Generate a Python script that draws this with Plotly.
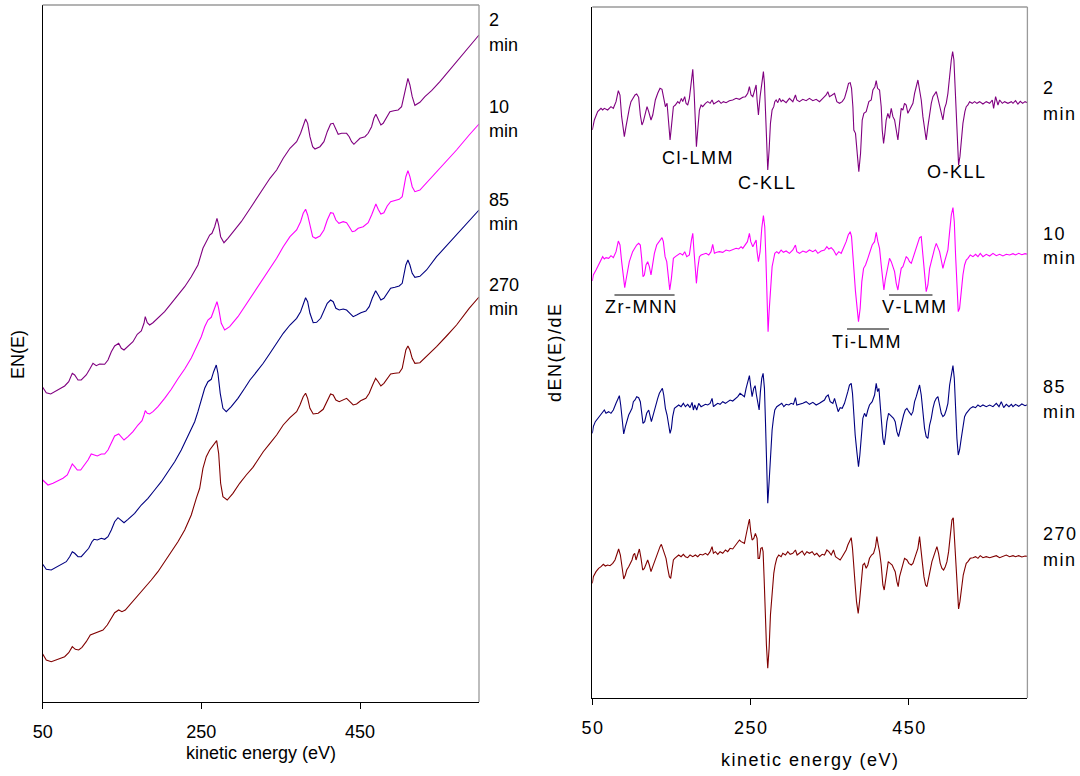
import plotly.graph_objects as go

W, H = 1080, 776

# ---------------- EN(E) spectra (left panel): (kinetic energy eV, EN(E) arb. units) ----------------
en_2min = [(50, 314.7), (54.5, 309.3), (60.1, 308), (65.1, 310.3), (71.4, 313.7), (77.7, 316), (82.8, 320.3),
           (87.3, 328.7), (90.3, 327), (94.5, 322), (98.6, 322), (104.9, 327), (109.2, 332.7), (113.4, 338.7),
           (117.5, 336.3), (121.8, 338), (128.1, 337.7), (132.3, 342), (136.5, 350.3), (140.7, 356), (145.8, 358.7),
           (149.1, 353.7), (152.5, 352), (157.5, 355.3), (163.8, 360.3), (169.2, 367.7), (174.3, 371), (177.7, 378.7),
           (179.3, 385.3), (181.8, 379.3), (184.8, 377), (189.0, 379.3), (195.3, 383.7), (203.7, 390.3), (212.1, 398.7),
           (220.5, 407), (229.0, 415.3), (237.3, 425.3), (245.7, 437), (252.0, 453.7), (256.2, 460.3), (260.5, 467),
           (263.4, 468.7), (266.8, 475.3), (269.7, 483.7), (271.8, 477), (274.3, 465.3), (278.5, 459.3), (283.5, 463.7),
           (292.0, 472), (300.3, 480.3), (312.9, 495.3), (319.7, 503.7), (328.0, 513.7), (336.5, 523.7), (344.9, 532),
           (353.2, 543.7), (361.7, 553.7), (370.1, 560.3), (375.1, 568.7), (378.4, 577), (381.4, 583), (384.0, 578.7),
           (386.9, 565.3), (390.3, 555.3), (393.2, 553), (399.5, 555.3), (404.5, 560.3), (408.7, 570.3), (412.9, 578),
           (416.2, 578.7), (419.6, 572), (422.5, 567.7), (426.8, 568.7), (433.1, 568.7), (436.4, 565.3), (439.4, 560.3),
           (442.3, 557.7), (445.7, 560.3), (449.9, 563.7), (456.2, 565.3), (460.3, 568.7), (464.6, 575.3), (467.5, 583.7),
           (470.0, 587.7), (472.9, 582), (476.3, 577), (479.2, 578.7), (483.5, 585.3), (487.7, 590.3), (492.7, 591.3),
           (498.1, 592), (502.4, 595.3), (505.3, 605.3), (507.8, 617), (510.4, 623.7), (512.9, 617), (515.8, 605.3),
           (519.2, 596.7), (525.5, 599.7), (531.8, 605.3), (540.2, 611.3), (550.7, 620.3), (563.3, 632), (575.9, 643.7),
           (587.6, 655.3), (600, 667)]

en_10min = [(50, 222), (56.7, 217), (63.0, 218.7), (69.3, 221.3), (75.6, 223.7), (81.0, 227), (84.8, 233.7),
            (87.3, 238), (90.3, 235.3), (93.6, 232), (97.9, 232), (102.9, 237), (107.1, 242), (111.2, 248),
            (114.7, 247), (118.8, 246), (123.9, 248), (128.1, 248), (132.3, 252), (136.5, 258.7), (140.7, 266),
            (145.8, 268), (149.1, 264.7), (152.5, 262), (157.5, 265.3), (163.8, 270.3), (170.1, 277), (175.2, 281.3),
            (177.7, 287), (179.3, 291.3), (181.8, 288.7), (184.8, 288), (189.0, 290.3), (195.3, 295.3), (203.7, 303.7),
            (212.1, 312.7), (220.5, 323.3), (229.0, 333), (237.3, 344), (249.9, 365.3), (254.2, 375.3), (258.3, 382),
            (262.5, 384.7), (266.8, 393.7), (269.7, 400.3), (271.8, 393.7), (275.1, 378.7), (279.4, 372), (285.7, 375.3),
            (296.1, 385.3), (304.6, 395.3), (311.3, 404.3), (319.7, 413.7), (328.0, 423.7), (336.5, 433.7), (344.9, 443.7),
            (353.2, 455.3), (361.7, 465.3), (370.1, 472), (375.1, 480.3), (378.4, 488.7), (381.4, 492.7), (384.0, 487),
            (386.9, 475.3), (390.3, 465.3), (394.0, 463.7), (399.5, 466), (404.5, 472), (408.7, 482), (412.9, 489.3),
            (416.2, 488.7), (419.6, 482), (423.4, 478.7), (428.8, 480.3), (433.1, 479.3), (436.4, 475.3), (440.2, 470.3),
            (443.6, 471), (447.7, 473.7), (454.0, 475.3), (460.3, 479.3), (464.6, 487), (467.5, 493.7), (470.0, 498),
            (472.9, 492.7), (476.3, 488), (480.1, 489.3), (484.3, 496), (488.6, 500.3), (494.0, 501.3), (499.4, 502.7),
            (503.2, 505.3), (505.7, 515.3), (507.8, 525.3), (510.4, 531.3), (512.9, 525.3), (515.8, 515.3), (519.2, 510.3),
            (525.5, 512), (533.9, 519.3), (546.5, 530.3), (559.1, 542), (571.7, 552), (587.6, 567), (600, 578)]

en_85min = [(50, 137.7), (54.5, 132.7), (60.8, 132), (67.1, 134.7), (73.4, 137), (79.7, 140.3), (84.0, 145.3),
            (87.3, 150.3), (90.3, 148.7), (94.5, 145.3), (98.6, 145.3), (102.9, 149.3), (108.0, 153.7), (112.1, 160.3),
            (114.7, 162.7), (118.8, 162), (123.9, 163.7), (128.1, 162.7), (132.3, 165.3), (136.5, 172), (140.7, 180.3),
            (144.9, 184.3), (149.1, 181.3), (152.5, 179.3), (157.5, 182.7), (165.9, 188.7), (174.3, 197), (182.7, 203.7),
            (191.1, 212), (199.5, 220.3), (207.9, 230.3), (216.4, 240.3), (224.7, 252), (233.1, 265.3), (241.6, 280.3),
            (245.7, 290.3), (249.9, 302), (254.2, 313.7), (258.3, 320.3), (262.5, 322.7), (265.5, 330.3), (268.8, 337),
            (270.9, 328.7), (273.8, 308.7), (277.2, 293.7), (281.4, 290.3), (287.7, 295.3), (296.1, 303.7), (304.6, 313.7),
            (311.3, 322), (319.7, 330.3), (328.0, 338.7), (336.5, 348.7), (344.9, 358.7), (353.2, 368.7), (361.7, 377),
            (370.1, 383.7), (375.1, 390.3), (378.4, 398.7), (381.4, 404.3), (384.0, 400.3), (386.9, 388.7), (391.0, 379.3),
            (395.3, 379.7), (400.4, 383.7), (404.5, 390.3), (408.7, 398.7), (412.9, 402), (416.2, 400.3), (419.6, 393.7),
            (423.8, 392), (428.8, 393), (433.1, 392), (437.3, 388.7), (441.4, 385.3), (445.7, 387), (451.1, 389.3),
            (457.4, 391), (461.6, 395.3), (465.4, 403.7), (469.7, 411.3), (472.9, 407), (476.3, 402), (480.1, 403.7),
            (484.3, 409.3), (488.6, 413.7), (494.0, 414.7), (499.4, 416), (503.2, 418.7), (505.7, 428.7), (507.8, 437),
            (510.4, 442), (512.9, 437), (515.8, 428.7), (519.2, 424.7), (525.5, 425.7), (533.9, 432), (546.5, 445.3),
            (563.3, 460.3), (587.6, 481.3), (600, 492)]

en_270min = [(50, 48), (54.5, 42), (60.8, 40.3), (69.3, 42.7), (77.7, 45.3), (82.8, 49.3), (87.3, 55.3), (91.1, 52.7),
             (95.4, 52), (99.5, 54.7), (104.9, 60.3), (110.0, 67), (114.7, 68.7), (119.7, 70.3), (126.0, 72), (131.4, 77),
             (136.5, 83.7), (140.7, 89.3), (145.8, 92), (149.9, 90.3), (154.1, 92), (161.7, 98.7), (170.1, 107),
             (178.5, 113.7), (186.9, 122), (195.3, 130.3), (203.7, 140.3), (212.1, 149.3), (220.5, 160.3), (229.0, 172),
             (237.3, 187), (243.6, 203.7), (247.9, 213.7), (252.0, 233.7), (256.2, 245.3), (260.5, 252), (263.4, 255.3),
             (266.8, 258.7), (269.3, 261.3), (271.8, 248.7), (274.3, 218.7), (277.2, 205.3), (282.6, 202), (289.8, 208.7),
             (298.3, 218.7), (306.6, 227), (315.0, 234.7), (319.7, 240.3), (328.0, 250.3), (336.5, 258.7), (344.9, 267),
             (353.2, 277), (361.7, 284.3), (370.1, 290.3), (374.3, 297), (378.4, 305.3), (381.4, 308.7), (384.0, 303.7),
             (386.9, 293.7), (391.0, 288), (397.3, 288.7), (403.6, 292.7), (408.7, 300.3), (412.9, 308), (416.2, 307),
             (419.6, 302), (423.8, 300.3), (428.8, 302), (433.1, 303.7), (437.3, 300.3), (441.4, 297), (445.7, 298),
             (450.8, 301.3), (457.4, 303.7), (461.6, 308.7), (465.9, 317), (469.7, 323.7), (472.9, 320.3), (476.3, 316),
             (480.1, 318.7), (484.3, 323.7), (488.6, 328), (494.0, 328.7), (499.4, 329.3), (503.2, 333.7), (505.7, 343.7),
             (507.8, 352), (510.4, 356), (512.9, 352), (515.8, 343.7), (519.2, 338.7), (525.5, 339.3), (533.9, 345.3),
             (546.5, 355.3), (559.1, 366), (571.7, 377), (587.6, 393.7), (600, 405)]

# ---------------- dEN(E)/dE spectra (right panel): (kinetic energy eV, signal arb. units rel. baseline) -------------
de_2min = [(50.0, -80), (52.6, -50), (56.8, -25), (61.0, -15), (63.1, -20), (65.2, -15), (69.4, -20), (73.6, -10),
           (76.6, -15), (80.0, 5), (82.9, 38), (85.0, 25), (87.1, -40), (90.5, -100), (92.6, -70), (94.7, -35),
           (96.8, -15), (98.9, 5), (101.0, 12), (104.0, 25), (106.1, 28), (108.6, 18), (110.7, -35), (112.8, -65),
           (114.5, -55), (117.1, -30), (119.2, -10), (121.3, -25), (124.2, -50), (126.4, -35), (129.7, 10), (132.7, 30),
           (135.6, 45), (138.1, 42), (140.3, 20), (142.4, -10), (144.5, 0), (146.6, -60), (148.3, -110), (150.0, -70),
           (152.5, -10), (155.0, -5), (158.0, 5), (160.1, 0), (162.6, 15), (164.3, 5), (166.8, 20), (168.5, 0),
           (170.6, -5), (172.7, 15), (175.3, 80), (177.0, 102), (178.6, 40), (180.3, -60), (181.6, -130), (183.3, -80),
           (185.4, -20), (187.5, -5), (189.6, -10), (193.0, 0), (195.9, 5), (198.9, 0), (201.4, 10), (203.5, -2),
           (206.5, 2), (209.8, 8), (212.8, 0), (215.7, 5), (219.1, 2), (223.3, 8), (227.5, 10), (231.8, 15), (236.0, 12),
           (240.2, 18), (243.6, 20), (246.5, 30), (248.6, 50), (250.7, 25), (252.9, 20), (255.0, 40), (257.1, 55),
           (258.3, 10), (260.0, -35), (262.1, 20), (264.7, 80), (266.3, 95), (267.6, 60), (268.9, -10), (270.1, -110),
           (271.8, -200), (273.5, -140), (275.2, -60), (277.3, -20), (279.4, -10), (280.7, 5), (282.4, 10), (284.5, 2),
           (286.6, 15), (288.7, 5), (290.8, 10), (295.0, 2), (299.2, 15), (303.5, 5), (306.8, 25), (308.5, 10),
           (311.9, 5), (316.1, 12), (320.3, 8), (324.5, 15), (328.8, 8), (333.0, 12), (337.2, 5), (341.4, 15),
           (345.6, 25), (347.7, 35), (349.8, 20), (353.2, 25), (356.2, 30), (359.1, 5), (362.5, 0), (365.9, 5),
           (368.8, 15), (371.8, 40), (373.9, 60), (376.0, 62), (377.7, 45), (379.4, -10), (380.6, -80), (382.7, -90),
           (384.8, -150), (386.9, -205), (389.1, -150), (391.2, -50), (393.3, -30), (396.2, -25), (399.6, 5),
           (402.6, 10), (404.7, 40), (407.2, 50), (408.9, 68), (410.6, 45), (413.1, 40), (415.2, -10), (416.5, -80),
           (418.2, -120), (419.8, -90), (421.5, -50), (423.6, -30), (425.7, -45), (427.9, -15), (430.0, -40),
           (432.1, -50), (434.2, -80), (436.3, -110), (438.4, -60), (440.5, -15), (442.6, -20), (444.7, 0), (446.8, -5),
           (448.9, -30), (451.0, -20), (453.2, -10), (455.3, 0), (457.4, 30), (459.5, 50), (461.6, 70), (463.7, 40),
           (465.8, 10), (467.9, -40), (470.4, -90), (472.1, -110), (474.2, -70), (476.4, -30), (478.5, 0), (480.6, 20),
           (482.7, 30), (484.8, 35), (486.9, 15), (489.0, -5), (491.1, -25), (493.2, -50), (495.3, -15), (497.4, 0),
           (499.5, 30), (501.7, 90), (503.8, 130), (505.5, 155), (507.1, 130), (508.4, 60), (510.1, -40), (511.8, -140),
           (513.0, -185), (514.7, -160), (516.8, -90), (518.5, -60), (521.0, -25), (522.7, -10), (524.8, -5),
           (526.9, 5), (530.3, 0), (533.3, 5), (536.2, 0), (539.6, 5), (543.8, -2), (548.0, 5), (552.3, 0), (555.6, 10),
           (557.3, -15), (559.8, 20), (562.8, -5), (564.9, 10), (568.3, 0), (571.2, 5), (575.4, 0), (579.7, 5),
           (581.8, 0), (585, 8), (588, -2), (591, 6), (594, 0), (597, 5), (600, 2)]

de_10min = [(50.0, -83), (51.3, -65), (54.7, -50), (58.0, -35), (61.0, -20), (63.1, -10), (65.2, -17), (67.3, -13),
            (70.7, -15), (73.6, -7), (76.6, -13), (80.0, 5), (82.9, 37), (85.0, 25), (87.1, -25), (89.3, -75),
            (91.0, -103), (92.6, -80), (94.7, -50), (96.8, -25), (98.9, -10), (101.0, 5), (103.6, 15), (106.1, 25),
            (108.6, 30), (110.7, 25), (112.4, -15), (114.1, -70), (115.8, -65), (117.9, -35), (120.0, -25),
            (122.1, -40), (124.2, -65), (126.4, -35), (128.5, 0), (131.4, 25), (134.8, 35), (138.1, 47), (139.8, 35),
            (142.0, -10), (144.1, -25), (146.2, -65), (147.9, -110), (150.0, -75), (152.5, -15), (155.0, -10),
            (158.0, -5), (160.9, 0), (164.3, -5), (166.8, 5), (169.4, -10), (172.7, -5), (175.3, 40), (177.0, 60),
            (178.6, 5), (180.3, -65), (181.6, -90), (183.3, -45), (185.4, -10), (187.5, -5), (190.4, -3), (193.8, 0),
            (197.2, -5), (200.1, 5), (202.2, 27), (204.4, 0), (207.3, 3), (210.7, 5), (214.9, 3), (219.1, 10),
            (223.3, 7), (227.5, 10), (231.8, 15), (235.1, 13), (238.1, 20), (240.2, 15), (243.6, 25), (246.1, 35),
            (248.6, 60), (250.3, 35), (252.9, 20), (255.0, 30), (257.1, 40), (258.3, 5), (260.0, -25), (262.1, 5),
            (264.2, 75), (266.3, 113), (268.0, 80), (269.3, -5), (270.6, -115), (272.2, -235), (273.5, -175),
            (275.2, -95), (277.3, -40), (279.0, -20), (280.7, 0), (283.2, 5), (285.7, 0), (288.7, 10), (291.6, 3),
            (295.0, 7), (299.2, 0), (303.5, 10), (306.8, 25), (308.5, 5), (311.9, 0), (316.1, 7), (320.3, 3),
            (324.5, 10), (328.8, 5), (332.1, 10), (335.1, 0), (339.3, 7), (343.5, 10), (346.5, 20), (349.0, 13),
            (352.0, 17), (354.9, 10), (358.3, -5), (361.6, 5), (364.6, 0), (367.6, 15), (370.9, 35), (373.5, 55),
            (376.0, 65), (377.7, 50), (379.4, -5), (381.0, -85), (382.7, -115), (384.8, -165), (386.5, -205),
            (388.6, -165), (390.7, -85), (392.9, -45), (395.4, -35), (398.3, -15), (401.3, 5), (403.8, 25),
            (406.8, 35), (408.9, 63), (411.0, 35), (413.1, 15), (415.2, -35), (416.9, -85), (418.6, -110),
            (420.3, -80), (422.0, -55), (424.1, -25), (425.7, -15), (427.9, -25), (430.0, -40), (432.1, -55),
            (434.2, -90), (436.3, -110), (438.4, -75), (440.5, -45), (442.6, -40), (444.7, -25), (446.8, -10),
            (448.9, -15), (451.0, -25), (453.2, -30), (455.3, -15), (457.4, 0), (459.5, 15), (461.6, 35), (463.7, 47),
            (465.8, 50), (467.9, -5), (470.0, -75), (472.1, -115), (474.2, -95), (476.4, -45), (478.5, -25),
            (480.6, 0), (482.7, 15), (484.8, 30), (486.9, 20), (489.0, 5), (491.1, -20), (493.2, -45), (495.3, -25),
            (497.4, -10), (499.5, 10), (501.7, 65), (503.8, 115), (505.9, 137), (507.6, 95), (509.2, -5),
            (510.9, -105), (512.6, -175), (514.3, -165), (516.4, -105), (518.5, -65), (520.6, -35), (522.7, -20),
            (524.8, -15), (527.8, -5), (531.2, -10), (534.5, -3), (537.5, -10), (540.4, 0), (543.8, -10), (548.0, -3),
            (552.3, -8), (556.5, 0), (560.7, -7), (564.9, -3), (569.1, -8), (573.3, -3), (577.5, -5), (581.8, -1),
            (585, -5), (589, 0), (593, -4), (597, -1), (600, -3)]

de_85min = [(50.0, -85), (51.3, -65), (53.8, -50), (56.8, -40), (59.7, -30), (63.1, -22), (65.2, -15), (67.3, -25),
            (70.7, -20), (73.6, -25), (76.6, -15), (80.0, 5), (82.1, 20), (84.2, 28), (85.9, 0), (87.6, -50),
            (89.7, -87), (91.8, -65), (93.5, -50), (96.0, -30), (98.1, -20), (100.2, -10), (101.9, 10), (104.0, 15),
            (106.1, 25), (108.6, 22), (110.7, 10), (112.4, -30), (114.1, -55), (116.2, -50), (118.7, -25),
            (121.3, -15), (123.0, -30), (124.7, -50), (126.4, -35), (128.5, -15), (130.6, 5), (132.7, 20),
            (134.8, 35), (136.9, 42), (138.6, 50), (140.3, 30), (142.4, -10), (144.5, -30), (146.6, -60), (148.3, -85),
            (150.0, -70), (151.6, -35), (153.8, -10), (155.9, -5), (159.2, 0), (162.2, -5), (165.1, 5), (167.7, -5),
            (170.6, 2), (173.6, -8), (176.1, 8), (177.8, -15), (179.5, 0), (182.0, -15), (184.5, 5), (187.5, -5),
            (190.4, 0), (193.0, 2), (195.9, 0), (198.9, 5), (201.4, 20), (203.1, -5), (205.6, 0), (208.6, 5),
            (211.5, 2), (214.9, 10), (218.3, 5), (221.2, 10), (224.2, 15), (227.5, 12), (230.9, 20), (233.9, 25),
            (236.8, 35), (239.4, 30), (242.3, 25), (244.4, 50), (246.9, 75), (248.6, 88), (250.3, 55), (252.0, 25),
            (254.1, 50), (255.8, 58), (257.5, 30), (259.2, 0), (260.9, -15), (262.5, 40), (264.2, 80), (265.9, 95),
            (267.6, 50), (268.9, -50), (270.1, -170), (271.8, -295), (273.5, -230), (275.2, -140), (277.3, -75),
            (279.0, -40), (280.7, -15), (283.2, -5), (286.6, 0), (289.5, 5), (292.1, -5), (295.0, 2), (298.4, 0),
            (301.3, 5), (304.3, 2), (306.8, 22), (308.5, 0), (311.9, 2), (316.1, 5), (320.3, 10), (324.5, 2),
            (328.8, 8), (333.0, 0), (337.2, 5), (340.6, 10), (343.5, 15), (345.6, 25), (348.2, 30), (350.7, 10),
            (354.1, 5), (356.2, 20), (358.3, 0), (360.8, -20), (363.3, -8), (365.9, -10), (368.8, 5), (370.9, 20),
            (373.0, 40), (375.1, 60), (377.3, 65), (378.9, 35), (380.6, -40), (382.3, -90), (384.4, -140),
            (386.5, -185), (388.2, -150), (390.3, -75), (392.0, -40), (394.1, -25), (396.2, -35), (398.3, -15),
            (400.4, 0), (403.8, 10), (406.8, 30), (408.9, 65), (410.6, 40), (412.3, 50), (413.9, 10), (415.6, -50),
            (417.3, -100), (419.0, -120), (420.7, -90), (422.4, -50), (424.5, -25), (426.6, -30), (429.1, -35),
            (430.8, -40), (432.9, -50), (435.0, -80), (437.1, -95), (439.2, -70), (441.3, -45), (443.5, -30),
            (445.6, -15), (447.7, -10), (450.2, -20), (453.2, -30), (455.3, -20), (457.4, 10), (459.5, 25),
            (461.6, 40), (463.7, 60), (465.8, 30), (467.9, -20), (470.0, -70), (472.1, -95), (474.2, -100),
            (476.4, -60), (478.5, -40), (480.6, -10), (482.7, 10), (484.8, 20), (486.9, 25), (489.0, 0), (491.1, -25),
            (493.2, -35), (495.3, -30), (497.4, -15), (499.5, 5), (501.7, 60), (503.8, 95), (505.9, 118), (507.6, 80),
            (509.2, -20), (510.9, -100), (512.6, -150), (514.3, -135), (516.4, -100), (518.5, -65), (520.6, -35),
            (522.7, -25), (524.8, -18), (527.8, -10), (531.2, -5), (534.5, -8), (537.5, 0), (540.4, -5), (543.8, 0),
            (548.0, -5), (552.3, 0), (556.5, -5), (560.7, 5), (564.1, -5), (567.0, 10), (570.0, -8), (573.3, 2),
            (576.7, -5), (579.7, 2), (581.8, -5), (585, 2), (589, -4), (593, 3), (597, -2), (600, 1)]

de_270min = [(50.0, -85), (51.3, -65), (54.7, -50), (58.0, -40), (61.0, -35), (63.9, -28), (66.5, -33), (69.4, -30),
             (72.4, -32), (75.8, -25), (78.7, -15), (81.2, 0), (83.3, 18), (85.5, 0), (87.6, -40), (89.7, -72),
             (91.8, -60), (93.5, -45), (96.0, -35), (98.1, -25), (100.2, -15), (101.9, 0), (103.6, 5), (105.3, -15),
             (107.4, 5), (109.5, 18), (111.6, -10), (113.7, -45), (115.8, -40), (117.9, -25), (120.0, -15),
             (122.1, -30), (124.2, -50), (126.4, -35), (128.5, -20), (130.6, -5), (132.7, 10), (135.6, 25),
             (137.3, 32), (139.0, 20), (141.1, 0), (143.2, -10), (145.3, -40), (147.4, -65), (149.1, -70),
             (150.8, -45), (152.5, -15), (154.2, -10), (156.7, -5), (159.2, 0), (162.2, -5), (165.1, 2), (167.7, -5),
             (170.6, -8), (173.6, 0), (177.0, -5), (180.3, 0), (183.3, -5), (186.2, 2), (189.6, 0), (193.0, 5),
             (195.9, 0), (198.9, 10), (201.4, 25), (203.1, 5), (205.6, 10), (208.6, 2), (211.5, 10), (214.9, 5),
             (218.3, 15), (221.2, 10), (224.2, 20), (227.5, 18), (229.7, 25), (231.8, 35), (233.9, 40), (236.0, 45),
             (238.1, 40), (240.2, 38), (242.3, 35), (244.4, 60), (246.5, 85), (248.6, 108), (250.3, 70), (252.0, 45),
             (254.1, 50), (256.2, 65), (258.3, 50), (259.6, -10), (261.3, -10), (263.0, 20), (264.7, 22), (265.9, 10),
             (267.2, -70), (268.5, -170), (270.1, -270), (271.8, -340), (273.5, -280), (275.2, -180), (277.3, -110),
             (279.4, -55), (281.1, -30), (283.2, -10), (285.7, 0), (288.7, -5), (290.8, 5), (294.2, 0), (297.1, 10),
             (300.1, 2), (303.5, 5), (306.8, 15), (308.9, 0), (311.9, 5), (315.3, 12), (318.2, 0), (321.2, 10),
             (324.5, 5), (327.9, 10), (330.9, 0), (333.8, 5), (337.2, -5), (340.6, 2), (343.5, 0), (346.5, 15),
             (349.0, 10), (352.0, 0), (354.9, 15), (357.4, -5), (360.4, -10), (363.3, -15), (365.9, -5), (368.8, 5),
             (370.9, 15), (373.0, 30), (375.1, 40), (377.3, 52), (378.9, 20), (380.6, -50), (382.3, -90),
             (384.0, -140), (386.1, -175), (387.8, -140), (389.9, -80), (392.0, -30), (394.1, -25), (396.2, -40),
             (398.3, -30), (400.4, -10), (403.0, 0), (405.5, 5), (408.0, 25), (409.7, 55), (411.4, 30), (413.1, 10),
             (415.2, -30), (417.3, -90), (419.0, -105), (420.7, -80), (422.4, -45), (424.1, -20), (426.6, -25),
             (429.1, -30), (430.8, -40), (432.9, -50), (435.0, -80), (436.7, -95), (438.4, -65), (440.5, -45),
             (442.6, -30), (444.7, -10), (447.7, -15), (450.2, -25), (453.2, -30), (455.3, -25), (457.4, -10),
             (459.5, 5), (461.6, 20), (463.7, 55), (465.4, 25), (467.1, -20), (469.2, -65), (471.3, -90), (473.0, -95),
             (475.1, -70), (477.2, -35), (479.3, -20), (481.4, -5), (483.5, 10), (485.6, 25), (487.7, 5), (489.8, -25),
             (492.0, -40), (494.1, -45), (496.2, -35), (498.3, -20), (500.4, 10), (502.5, 60), (504.6, 105),
             (506.3, 112), (508.0, 40), (509.7, -60), (511.4, -130), (513.0, -162), (514.7, -140), (516.8, -95),
             (518.9, -60), (521.0, -40), (522.7, -25), (524.8, -20), (527.8, -10), (531.2, -8), (534.5, -5),
             (537.5, -10), (540.4, -2), (543.8, -8), (548.0, -5), (552.3, -8), (556.5, -5), (560.7, -2), (564.9, -8),
             (569.1, -5), (573.3, 0), (577.5, -5), (581.8, -2), (585, -5), (589, -2), (593, -6), (597, -3), (600, -4)]

# vertical offsets of the stacked derivative spectra (arb. units)
de_offsets = [1784, 1334, 879, 429]

sputter_times = ["2", "10", "85", "270"]
colors = ["#800080", "#FF00FF", "#000080", "#800000"]

x_ticks = [50, 250, 450]
x_range = [50, 600]

# Auger transitions marked on the derivative spectra: (label, energy range start, end)
auger_groups = [("Zr-MNN", 78, 154), ("Ti-LMM", 372, 425), ("V-LMM", 425, 480)]

FONT = "Liberation Sans, Arial, sans-serif"
FS = 18
HS = "\u200a"


def spaced(s):
    return HS.join(s)


def px(x, y):
    return x / W, 1 - y / H


fig = go.Figure()

for data, c in zip([en_2min, en_10min, en_85min, en_270min], colors):
    fig.add_trace(go.Scatter(x=[p[0] for p in data], y=[p[1] for p in data], mode="lines",
                             line=dict(color=c, width=1.1), xaxis="x", yaxis="y", showlegend=False,
                             hoverinfo="skip"))

for data, c, off in zip([de_2min, de_10min, de_85min, de_270min], colors, de_offsets):
    fig.add_trace(go.Scatter(x=[p[0] for p in data], y=[off + p[1] for p in data], mode="lines",
                             line=dict(color=c, width=1.1), xaxis="x2", yaxis="y2", showlegend=False,
                             hoverinfo="skip"))

axis_common = dict(range=x_range, tickvals=x_ticks, ticks="outside", ticklen=6, tickwidth=1.2,
                   tickcolor="black", showline=True, linecolor="black", linewidth=1.3, showgrid=False,
                   zeroline=False, ticklabelstandoff=7, automargin=False)
yaxis_common = dict(showticklabels=False, ticks="", showline=True, linecolor="black", linewidth=1.3,
                    showgrid=False, zeroline=False, automargin=False)

fig.update_layout(
    width=W, height=H, margin=dict(l=0, r=0, t=0, b=0), plot_bgcolor="white", paper_bgcolor="white",
    font=dict(family=FONT, color="black"),
    xaxis=dict(domain=[42.7 / W, 479 / W], anchor="y", tickfont=dict(size=FS, family=FONT), **axis_common),
    yaxis=dict(domain=[1 - 702 / H, 1 - 5 / H], anchor="x", range=[0, 697], **yaxis_common),
    xaxis2=dict(domain=[592.3 / W, 1027.4 / W], anchor="y2", tickfont=dict(size=FS, family=FONT),
                ticktext=[spaced(str(v)) for v in x_ticks], **axis_common),
    yaxis2=dict(domain=[1 - 698 / H, 1 - 7 / H], anchor="x2", range=[0, 2073], **yaxis_common),
)

shapes = []
for xr, yr in [("x domain", "y domain"), ("x2 domain", "y2 domain")]:
    shapes.append(dict(type="line", xref=xr, yref=yr, x0=0, x1=1, y0=1, y1=1, line=dict(color="#9a9a9a", width=1.3)))
    shapes.append(dict(type="line", xref=xr, yref=yr, x0=1, x1=1, y0=0, y1=1, line=dict(color="#9a9a9a", width=1.3)))

group_line_y = {"Zr-MNN": 295, "Ti-LMM": 329, "V-LMM": 295}
for name, e0, e1 in auger_groups:
    yy = 1 - group_line_y[name] / H
    shapes.append(dict(type="line", xref="x2", yref="paper", x0=e0, x1=e1, y0=yy, y1=yy,
                       line=dict(color="black", width=1.2)))
fig.update_layout(shapes=shapes)

ann = []


def add_text(text, x, y, size=FS, xanchor="left", angle=0):
    ax, ay = px(x, y)
    ann.append(dict(text=text, x=ax, y=ay, xref="paper", yref="paper", showarrow=False, xanchor=xanchor,
                    yanchor="middle", textangle=angle, font=dict(size=size, family=FONT, color="black")))


# time labels, left panel
left_label_y = [(20, 45), (107, 131), (200, 224), (285, 309)]
for t, (y1, y2) in zip(sputter_times, left_label_y):
    add_text(t, 487, y1)
    add_text("min", 487, y2)

# time labels, right panel
right_label_y = [(88, 114), (234, 258), (387, 412), (534, 560)]
for t, (y1, y2) in zip(sputter_times, right_label_y):
    add_text(spaced(t), 1041, y1)
    add_text(spaced("min"), 1041, y2)

# axis titles
add_text("EN(E)", 18, 355, xanchor="center", angle=-90)
add_text(spaced("dEN(E)/dE"), 555, 353, xanchor="center", angle=-90)
add_text("kinetic energy (eV)", 261, 753, xanchor="center")
add_text(spaced("kinetic energy (eV)"), 809, 760, xanchor="center")

# Auger peak labels
add_text(spaced("Cl-LMM"), 697, 158, xanchor="center")
add_text(spaced("C-KLL"), 766, 183, xanchor="center")
add_text(spaced("O-KLL"), 956, 172, xanchor="center")
add_text(spaced("Zr-MNN"), 641, 307, xanchor="center")
add_text(spaced("Ti-LMM"), 866, 342, xanchor="center")
add_text(spaced("V-LMM"), 914, 307, xanchor="center")

fig.update_layout(annotations=ann)

fig.write_html("out.html", config={"displayModeBar": False},
               post_script="document.body.style.margin='0px';")
